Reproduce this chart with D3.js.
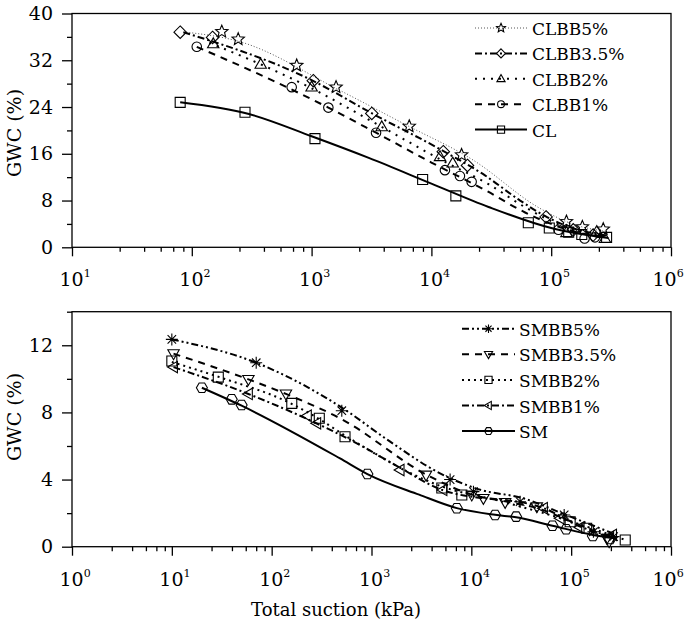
<!DOCTYPE html>
<html><head><meta charset="utf-8">
<script src="https://cdn.jsdelivr.net/npm/d3@7"></script>
<style>body{margin:0;background:#fff}svg{display:block}svg text{font-family:"DejaVu Serif" !important}</style>
</head><body><svg id="c" width="685" height="625"></svg>
<script>
// ---------- DATA (suction kPa, GWC %) ----------
const topSeries = ["CLBB5%","CLBB3.5%","CLBB2%","CLBB1%","CL"];
const botSeries = ["SMBB5%","SMBB3.5%","SMBB2%","SMBB1%","SM"];

const CLBB5_pts  = [[178,36.9],[244,35.6],[751,31.1],[1600,27.4],[6530,20.7],[17860,15.8],[134000,4.4],[182000,3.5],[272000,3.1]];
const CLBB35_pts = [[80,36.8],[149,35.9],[1033,28.5],[3180,22.9],[12560,16.35],[20000,14.0],[90600,5.2],[153000,3.0],[224000,2.1]];
const CLBB2_pts  = [[151,34.8],[376,31.3],[1000,27.4],[3850,20.6],[11800,15.5],[15070,14.4],[134000,2.5],[240000,2.7],[281000,1.5]];
const CLBB1_pts  = [[110,34.3],[682,27.4],[1380,23.9],[3450,19.6],[12970,13.2],[17300,12.2],[21670,11.2],[115000,3.0],[190000,1.5],[232000,1.7]];
const CL_pts     = [[80,24.8],[278,23.1],[1067,18.6],[8450,11.6],[16000,8.8],[64400,4.2],[96400,3.3],[140000,2.6],[180000,2.2],[290000,1.7]];

const CLBB5_fit  = [[90,36.8],[250,35.2],[1700,26.9],[6200,20.9],[22400,14.9],[80000,6.7],[150000,4.0],[290000,2.7]];
const CLBB35_fit = [[85,36.8],[1000,28.6],[3200,22.9],[12500,16.5],[28000,12.3],[55000,8.0],[90000,5.3],[150000,3.3],[290000,2.0]];
const CLBB2_fit  = [[140,35.0],[376,31.3],[1000,27.2],[3850,20.6],[13000,14.6],[30000,10.8],[60000,6.9],[100000,4.5],[150000,3.0],[290000,1.8]];
const CLBB1_fit  = [[110,34.3],[500,28.3],[1380,23.9],[3450,19.6],[10000,14.5],[28000,9.8],[60000,6.0],[100000,4.0],[150000,2.8],[290000,1.5]];
const CL_fit     = [[80,24.8],[300,22.8],[1000,19.0],[3000,15.3],[10000,10.9],[30000,6.9],[100000,3.3],[300000,1.6]];

const SMBB5_pts  = [[10,12.35],[70,10.96],[504,8.1],[6130,4.0],[10500,3.28],[30800,2.68],[85100,1.89],[167000,0.89],[266000,0.6]];
const SMBB35_pts = [[10.4,11.5],[58.5,9.97],[139,9.1],[3520,4.27],[10100,3.08],[13200,2.88],[21800,2.64],[45300,2.38],[228000,0.5],[240000,0.3]];
const SMBB2_pts  = [[10,11.06],[29.2,10.1],[159,8.54],[300,7.65],[543,6.55],[5060,3.5],[8030,3.08],[97700,1.49],[143000,1.1],[348000,0.4]];
const SMBB1_pts  = [[10.4,10.7],[58.5,9.1],[228,7.8],[283,7.35],[1935,4.57],[5200,3.38],[52800,2.29],[77600,1.69],[123000,1.15],[260000,0.7]];
const SM_pts     = [[20,9.47],[39.8,8.78],[50,8.44],[910,4.33],[7160,2.29],[17300,1.89],[28100,1.79],[65000,1.25],[89100,1.04],[165000,0.64],[246000,0.46]];

const SMBB5_fit  = [[10,12.35],[70,10.96],[500,8.3],[1500,6.3],[4860,4.37],[12200,3.4],[33300,2.88],[83800,1.95],[287000,0.7]];
const SMBB35_fit = [[10.4,11.5],[58.5,9.97],[139,9.1],[484,7.65],[3870,4.17],[10100,3.1],[21800,2.7],[45300,2.3],[100000,1.5],[250000,0.5]];
const SMBB2_fit  = [[10,11.0],[30,10.1],[160,8.5],[300,7.6],[550,6.6],[5000,3.6],[20000,2.7],[100000,1.5],[350000,0.4]];
const SMBB1_fit  = [[10.4,10.7],[58.5,9.1],[228,7.6],[713,6.16],[1935,4.7],[5000,3.4],[52800,2.3],[123000,1.2],[260000,0.6]];
const SM_fit     = [[20,9.47],[50,8.4],[484,5.26],[910,4.33],[3000,3.1],[7160,2.3],[17300,1.9],[28100,1.75],[65000,1.25],[165000,0.7],[287000,0.5]];

const topYTicks = [0,8,16,24,32,40];
const topYMinor = [4,12,20,28,36];
const botYTicks = [0,4,8,12];
const botYMinor = [2,6,10,14];
const topXExp = [1,2,3,4,5,6];
const botXExp = [0,1,2,3,4,5,6];
const minorMult = [2.5,4,5.5,7,8.5];

const FONT = "DejaVu Serif";

// ---------- STYLES ----------
const styles = {
  "CLBB5%":  {dash:"1,2", w:1, color:"#555", sym:"star"},
  "CLBB3.5%":{dash:"7,3,2,3", w:2, color:"#000", sym:"diamond"},
  "CLBB2%":  {dash:"2,6", w:2, color:"#000", sym:"triUp"},
  "CLBB1%":  {dash:"7,6", w:2, color:"#000", sym:"circle"},
  "CL":      {dash:null, w:2, color:"#000", sym:"square"},
  "SMBB5%":  {dash:"7,3,2,3,2,3", w:2, color:"#000", sym:"aster"},
  "SMBB3.5%":{dash:"7,6", w:2, color:"#000", sym:"triDown"},
  "SMBB2%":  {dash:"2,4", w:2, color:"#000", sym:"square"},
  "SMBB1%":  {dash:"7,3,2,3", w:2, color:"#000", sym:"triLeft"},
  "SM":      {dash:null, w:2, color:"#000", sym:"hex"}
};

function symPath(type, r){
  switch(type){
    case "square": return `M${-r},${-r}H${r}V${r}H${-r}Z`;
    case "diamond": r*=1.25; return `M0,${-r}L${r},0L0,${r}L${-r},0Z`;
    case "triUp": r*=1.2; return `M0,${-r}L${r*0.95},${r*0.65}L${-r*0.95},${r*0.65}Z`;
    case "triDown": r*=1.2; return `M0,${r}L${r*0.95},${-r*0.65}L${-r*0.95},${-r*0.65}Z`;
    case "triLeft": r*=1.2; return `M${-r},0L${r*0.65},${-r*0.95}L${r*0.65},${r*0.95}Z`;
    case "circle": { const c=r*0.95; return `M${-c},0A${c},${c} 0 1,0 ${c},0A${c},${c} 0 1,0 ${-c},0Z`; }
    case "hex": { let p=[]; for(let i=0;i<6;i++){const a=Math.PI/3*i; p.push([r*1.1*Math.cos(a), r*1.1*Math.sin(a)]);} return "M"+p.map(q=>q.join(",")).join("L")+"Z"; }
    case "star": { r*=1.3; let p=[]; for(let i=0;i<10;i++){const a=-Math.PI/2+Math.PI/5*i; const rr=i%2?r*0.45:r; p.push([rr*Math.cos(a), rr*Math.sin(a)]);} return "M"+p.map(q=>q.join(",")).join("L")+"Z"; }
    case "aster": { r*=1.2; const d=r*0.707; return `M0,${-r}V${r}M${-r},0H${r}M${-d},${-d}L${d},${d}M${-d},${d}L${d},${-d}`; }
  }
}

const svg = d3.select("#c").attr("font-family", FONT);

function panel(cfg){
  const x = d3.scaleLog().domain(cfg.xdom).range([72,671]);
  const y = d3.scaleLinear().domain(cfg.ydom).range([cfg.y0, cfg.y1]);
  const g = svg.append("g");

  const minorX = [];
  for(let e=cfg.xExp[0]; e<cfg.xExp[cfg.xExp.length-1]; e++) minorMult.forEach(m=>minorX.push(m*Math.pow(10,e)));
  g.append("g").attr("transform",`translate(0,${cfg.y0})`)
    .call(d3.axisBottom(x).tickValues(minorX).tickSize(4.5).tickFormat(""))
    .call(s=>{s.select(".domain").remove(); s.selectAll("line").attr("stroke-width",1.3);});
  const xa = g.append("g").attr("transform",`translate(0,${cfg.y0})`)
    .call(d3.axisBottom(x).tickValues(cfg.xExp.map(e=>Math.pow(10,e))).tickSize(9).tickFormat(""))
    .call(s=>{s.select(".domain").remove(); s.selectAll("line").attr("stroke-width",1.3);})
    .attr("font-family", FONT);
  xa.selectAll(".tick").each(function(d){
    const e = Math.round(Math.log10(d));
    const t = d3.select(this).append("text").attr("x", e===6 ? -19 : -13).attr("y",39).attr("text-anchor","start")
      .style("font-family",FONT).style("font-size","19px").attr("fill","#000");
    t.append("tspan").text("10");
    t.append("tspan").attr("dy",-9).style("font-size","11px").text(e);
  });

  g.append("g").attr("transform","translate(72,0)")
    .call(d3.axisLeft(y).tickValues(cfg.yMinor).tickSize(5).tickFormat(""))
    .call(s=>{s.select(".domain").remove(); s.selectAll("line").attr("stroke-width",1.3);});
  g.append("g").attr("transform","translate(72,0)")
    .call(d3.axisLeft(y).tickValues(cfg.yTicks).tickSize(10).tickPadding(9))
    .attr("font-family", FONT)
    .call(s=>{s.select(".domain").remove(); s.selectAll("line").attr("stroke-width",1.3);
      s.selectAll("text").style("font-size","19px").style("font-family",FONT).attr("fill","#000");});

  g.append("rect").attr("x",72).attr("y",cfg.y1).attr("width",599).attr("height",cfg.y0-cfg.y1)
    .attr("fill","none").attr("stroke","#000").attr("stroke-width",1.3);

  g.append("text").attr("transform",`translate(21,${cfg.ylabY}) rotate(-90)`).attr("text-anchor","middle")
    .style("font-family",FONT).style("font-size","19px").text("GWC (%)");

  const line = d3.line().x(d=>x(d[0])).y(d=>y(d[1])).curve(d3.curveMonotoneX);
  cfg.names.forEach((n,i)=>{
    const st = styles[n];
    g.append("path").attr("d",line(cfg.fits[i])).attr("fill","none").attr("stroke",st.color)
      .attr("stroke-width",st.w).attr("stroke-dasharray",st.dash);
  });
  cfg.names.forEach((n,i)=>{
    const st = styles[n];
    g.selectAll(null).data(cfg.pts[i]).join("path")
      .attr("transform",d=>`translate(${x(d[0])},${y(d[1])})`)
      .attr("d",symPath(st.sym,5)).attr("fill","none").attr("stroke","#000").attr("stroke-width",1.1);
  });

  const L = cfg.legend;
  cfg.names.forEach((n,i)=>{
    const st = styles[n];
    const yy = L.y + i*L.dy;
    g.append("line").attr("x1",L.x1).attr("x2",L.x2).attr("y1",yy).attr("y2",yy)
      .attr("stroke",st.color).attr("stroke-width",st.w).attr("stroke-dasharray",st.dash);
    g.append("path").attr("transform",`translate(${(L.x1+L.x2)/2},${yy})`).attr("d",symPath(st.sym,3.6))
      .attr("fill","none").attr("stroke","#000").attr("stroke-width",1.1);
    g.append("text").attr("x",L.tx).attr("y",yy+7).style("font-family",FONT).style("font-size","17px").text(n);
  });
}

panel({xdom:[10,1e6], ydom:[0,40], y0:247.3, y1:13.5, xExp:topXExp, yTicks:topYTicks, yMinor:topYMinor,
  ylabY:133, names:topSeries,
  pts:[CLBB5_pts,CLBB35_pts,CLBB2_pts,CLBB1_pts,CL_pts],
  fits:[CLBB5_fit,CLBB35_fit,CLBB2_fit,CLBB1_fit,CL_fit],
  legend:{x1:475,x2:527,tx:532,y:28,dy:25.4}});

panel({xdom:[1,1e6], ydom:[0,14], y0:546.7, y1:311.7, xExp:botXExp, yTicks:botYTicks, yMinor:botYMinor,
  ylabY:417, names:botSeries,
  pts:[SMBB5_pts,SMBB35_pts,SMBB2_pts,SMBB1_pts,SM_pts],
  fits:[SMBB5_fit,SMBB35_fit,SMBB2_fit,SMBB1_fit,SM_fit],
  legend:{x1:462,x2:515,tx:519,y:328.7,dy:25.6}});

svg.append("text").attr("x",336).attr("y",616).attr("text-anchor","middle")
  .style("font-family",FONT).style("font-size","18px").text("Total suction (kPa)");
</script></body></html>
